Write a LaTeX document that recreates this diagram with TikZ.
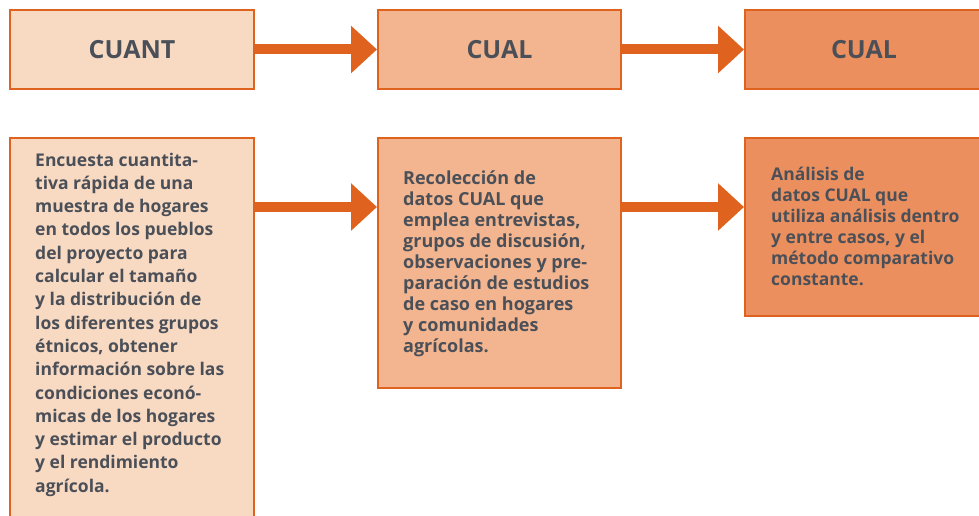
\documentclass[tikz,border=0pt]{standalone}
\usepackage{fontspec}
\setmainfont{Open Sans}
\usetikzlibrary{arrows.meta}
\definecolor{bdr}{HTML}{E0621F}
\definecolor{fillA}{HTML}{F8D9C2}
\definecolor{fillB}{HTML}{F2B58F}
\definecolor{fillC}{HTML}{EB8F5E}
\definecolor{txt}{HTML}{4B5058}
\tikzset{
  box/.style={draw=bdr, line width=2pt, anchor=north west, inner sep=0pt},
  head/.style={font=\fontsize{25}{28}\selectfont\bfseries, text=txt},
  body/.style={font=\fontsize{17.5}{21}\selectfont\bfseries, text=txt, align=left, anchor=north west, inner sep=0pt},
  arr/.style={draw=bdr, line width=10pt, -{Triangle[length=26pt,width=46pt]}},
}
\begin{document}
\begin{tikzpicture}[x=1pt,y=-1pt]
\useasboundingbox (0,0) rectangle (979,516);
% top row
\node[box, fill=fillA, minimum width=244pt, minimum height=79pt] (t1) at (9,9) {};
\node[box, fill=fillB, minimum width=243pt, minimum height=79pt] (t2) at (377,9) {};
\node[box, fill=fillC, minimum width=250pt, minimum height=79pt] (t3) at (744,9) {};
\node[head] (l1) at (t1.center) {CUANT};
\node[head] (l2) at (t2.center) {CUAL};
\node[head] (l3) at ([xshift=-6pt]t3.center) {CUAL};
% bottom row
\node[box, fill=fillA, minimum width=244pt, minimum height=400pt] (b1) at (9,137) {};
\node[box, fill=fillB, minimum width=243pt, minimum height=250pt] (b2) at (377,137) {};
\node[box, fill=fillC, minimum width=250pt, minimum height=178pt] (b3) at (744,137) {};
\node[body, font=\fontsize{17.5}{23.3}\selectfont\bfseries] (x1) at (35,152.5) {Encuesta cuantita-\\tiva rápida de una\\muestra de hogares\\en todos los pueblos\\del proyecto para\\calcular el tamaño\\y la distribución de\\los diferentes grupos\\étnicos, obtener\\información sobre las\\condiciones econó-\\micas de los hogares\\y estimar el producto\\y el rendimiento\\agrícola.};
\node[body, font=\fontsize{18}{21}\selectfont\bfseries] (x2) at (403,170.5) {Recolección de\\datos CUAL que\\emplea entrevistas,\\grupos de discusión,\\observaciones y pre-\\paración de estudios\\de caso en hogares\\y comunidades\\agrícolas.};
\node[body] (x3) at (771,166.5) {Análisis de\\datos CUAL que\\utiliza análisis dentro\\y entre casos, y el\\método comparativo\\constante.};
% arrows
\draw[arr] (t1.east) -- (t2.west);
\draw[arr] (t2.east) -- (t3.west);
\draw[arr] ([yshift=-70pt]b1.north east) -- ([yshift=-70pt]b2.north west);
\draw[arr] ([yshift=-70pt]b2.north east) -- ([yshift=-70pt]b3.north west);
\end{tikzpicture}
\end{document}
